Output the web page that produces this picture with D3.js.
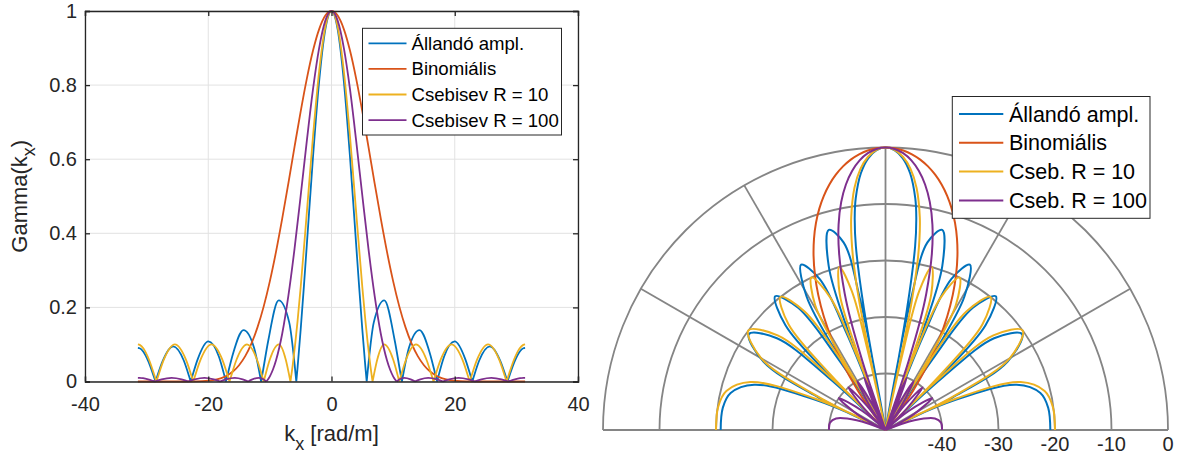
<!DOCTYPE html>
<html lang="hu">
<head>
	<meta charset="UTF-8">
	<title>Iránykarakterisztika</title>
	<style>
		*{margin:0;padding:0;}
		body{background:#fff;}
		#container{width: 1185px; height: 457px;}
		svg text{font-family: "Liberation Sans", Arial, sans-serif;}
	</style>
</head>
<body>
	<div id="container"></div>
	<script src="https://cdn.jsdelivr.net/npm/d3@7/dist/d3.min.js"></script>
	<script>
		var names = ['Állandó ampl.', 'Binomiális', 'Csebisev R = 10', 'Csebisev R = 100']
		var polarNames = ['Állandó ampl.', 'Binomiális', 'Cseb. R = 10', 'Cseb. R = 100']
		var kxTicks = [-40, -20, 0, 20, 40]
		var gammaTicks = [0, 0.2, 0.4, 0.6, 0.8, 1]
		var dbTicks = [-40, -30, -20, -10, 0]
		var spokes = [0, 30, 60, 90, 120, 150, 180]

		var kxUniform = [-31.416, -31.130, -30.559, -29.702, -28.846, -28.560, -28.274, -27.418, -25.704, -23.990, -23.134, -22.848, -22.562, -21.706, -19.992, -18.278, -17.422, -17.136, -16.850, -15.994, -14.280, -12.566, -11.710, -11.424, -11.138, -10.282, -8.568, -6.854, -5.998, -5.712, -5.5, -5, -4.5, -4, -3, -2, -1, 0, 1, 2, 3, 4, 4.5, 5, 5.5, 5.712, 5.998, 6.854, 8.568, 10.282, 11.138, 11.424, 11.710, 12.566, 14.280, 15.994, 16.850, 17.136, 17.422, 18.278, 19.992, 21.706, 22.562, 22.848, 23.134, 23.990, 25.704, 27.418, 28.274, 28.560, 28.846, 29.702, 30.559, 31.130, 31.416]
		var gUniform = [0.0909, 0.0898, 0.0811, 0.0536, 0.0143, 0, 0.0144, 0.0545, 0.0948, 0.0573, 0.0155, 0, 0.0157, 0.0604, 0.1081, 0.0675, 0.0186, 0, 0.0191, 0.0745, 0.1388, 0.0909, 0.0257, 0, 0.0269, 0.1087, 0.2189, 0.1590, 0.0481, 0, 0.0389, 0.1403, 0.2522, 0.370, 0.6065, 0.8115, 0.9507, 1, 0.9507, 0.8115, 0.6065, 0.370, 0.2522, 0.1403, 0.0389, 0, 0.0481, 0.1590, 0.2189, 0.1087, 0.0269, 0, 0.0257, 0.0909, 0.1388, 0.0745, 0.0191, 0, 0.0186, 0.0675, 0.1081, 0.0604, 0.0157, 0, 0.0155, 0.0573, 0.0948, 0.0545, 0.0144, 0, 0.0143, 0.0536, 0.0811, 0.0898, 0.0909]

		var kxBinom = [-31.416, -30, -28, -26, -24, -22, -21, -20, -19, -18, -17, -16, -15, -14, -13, -12, -11, -10, -9, -8, -7, -6, -5, -4, -3, -2, -1, 0, 1, 2, 3, 4, 5, 6, 7, 8, 9, 10, 11, 12, 13, 14, 15, 16, 17, 18, 19, 20, 21, 22, 24, 26, 28, 30, 31.416]
		var gBinom = [0, 0, 0, 0.000002, 0.00004, 0.00037, 0.00093, 0.00212, 0.00443, 0.00862, 0.0157, 0.0269, 0.0440, 0.0685, 0.1022, 0.1467, 0.2028, 0.2710, 0.3504, 0.4394, 0.5350, 0.6332, 0.7292, 0.8176, 0.8932, 0.9512, 0.9876, 1, 0.9876, 0.9512, 0.8932, 0.8176, 0.7292, 0.6332, 0.5350, 0.4394, 0.3504, 0.2710, 0.2028, 0.1467, 0.1022, 0.0685, 0.0440, 0.0269, 0.0157, 0.00862, 0.00443, 0.00212, 0.00093, 0.00037, 0.00004, 0.000002, 0, 0, 0]

		var kxCheb10 = [-31.416, -31.115, -30.514, -29.612, -28.711, -28.410, -28.110, -27.210, -25.410, -23.622, -22.728, -22.430, -22.134, -21.246, -19.470, -17.718, -16.842, -16.550, -16.266, -15.414, -13.710, -12.084, -11.271, -11.000, -10.755, -10.020, -8.550, -7.417, -6.851, -6.662, -6.3, -5.9, -5.5, -5, -4, -3, -2, -1, 0, 1, 2, 3, 4, 5, 5.5, 5.9, 6.3, 6.662, 6.851, 7.417, 8.550, 10.020, 10.755, 11.000, 11.271, 12.084, 13.710, 15.414, 16.266, 16.550, 16.842, 17.718, 19.470, 21.246, 22.134, 22.430, 22.728, 23.622, 25.410, 27.210, 28.110, 28.410, 28.711, 29.612, 30.514, 31.115, 31.416]
		var gCheb10 = [0.100, 0.0988, 0.0891, 0.0588, 0.0156, 0, 0.0156, 0.0588, 0.100, 0.0588, 0.0156, 0, 0.0156, 0.0588, 0.100, 0.0588, 0.0156, 0, 0.0156, 0.0588, 0.100, 0.0588, 0.0156, 0, 0.0156, 0.0588, 0.100, 0.0588, 0.0156, 0, 0.0434, 0.100, 0.1645, 0.255, 0.457, 0.662, 0.838, 0.9576, 1, 0.9576, 0.838, 0.662, 0.457, 0.255, 0.1645, 0.100, 0.0434, 0, 0.0156, 0.0588, 0.100, 0.0588, 0.0156, 0, 0.0156, 0.0588, 0.100, 0.0588, 0.0156, 0, 0.0156, 0.0588, 0.100, 0.0588, 0.0156, 0, 0.0156, 0.0588, 0.100, 0.0588, 0.0156, 0, 0.0156, 0.0588, 0.0891, 0.0988, 0.100]

		var kxCheb100 = [-31.416, -31.141, -30.592, -29.768, -28.945, -28.670, -28.397, -27.578, -25.940, -24.326, -23.519, -23.250, -22.987, -22.198, -20.620, -19.096, -18.334, -18.080, -17.842, -17.128, -15.700, -14.410, -13.765, -13.550, -13.373, -12.842, -11.780, -11.054, -10.691, -10.570, -10.35, -10.13, -10, -9.5, -9, -8, -7, -6, -5, -4, -3, -2, -1, 0, 1, 2, 3, 4, 5, 6, 7, 8, 9, 9.5, 10, 10.13, 10.35, 10.570, 10.691, 11.054, 11.780, 12.842, 13.373, 13.550, 13.765, 14.410, 15.700, 17.128, 17.842, 18.080, 18.334, 19.096, 20.620, 22.198, 22.987, 23.250, 23.519, 24.326, 25.940, 27.578, 28.397, 28.670, 28.945, 29.768, 30.592, 31.141, 31.416]
		var gCheb100 = [0.0100, 0.0099, 0.0089, 0.00588, 0.00156, 0, 0.00156, 0.00588, 0.0100, 0.00588, 0.00156, 0, 0.00156, 0.00588, 0.0100, 0.00588, 0.00156, 0, 0.00156, 0.00588, 0.0100, 0.00588, 0.00156, 0, 0.00156, 0.00588, 0.0100, 0.00588, 0.00156, 0, 0.0045, 0.0100, 0.0139, 0.0323, 0.0575, 0.129, 0.231, 0.358, 0.502, 0.650, 0.789, 0.9005, 0.974, 1, 0.974, 0.9005, 0.789, 0.650, 0.502, 0.358, 0.231, 0.129, 0.0575, 0.0323, 0.0139, 0.0100, 0.0045, 0, 0.00156, 0.00588, 0.0100, 0.00588, 0.00156, 0, 0.00156, 0.00588, 0.0100, 0.00588, 0.00156, 0, 0.00156, 0.00588, 0.0100, 0.00588, 0.00156, 0, 0.00156, 0.00588, 0.0100, 0.00588, 0.00156, 0, 0.00156, 0.00588, 0.0089, 0.0099, 0.0100]

		var colors = ['#0072BD', '#D95319', '#EDB120', '#7E2F8E']

		var series = [[kxUniform, gUniform], [kxBinom, gBinom], [kxCheb10, gCheb10], [kxCheb100, gCheb100]]
			.map(function(s){ return s[0].map(function(k, i){ return {kx: k, g: s[1][i]} }) })
		var kMax = d3.max(kxUniform)

		// split at the nulls so the cusps stay sharp
		function lobes(pts){
			var out = [], cur = []
			pts.forEach(function(p, i){
				cur.push(p)
				if (p.g === 0 && i > 0 && i < pts.length - 1 && pts[i - 1].g > 0 && pts[i + 1].g > 0) {
					out.push(cur)
					cur = [p]
				}
			})
			out.push(cur)
			return out
		}

		var svg = d3.select('#container').append('svg').attr('width', 1185).attr('height', 457)

		// ---- bal oldali diagram ----
		var box = {left: 85, right: 578, top: 11, bottom: 381.5}
		var scale_x = d3.scaleLinear().domain([-40, 40]).range([box.left, box.right])
		var scale_y = d3.scaleLinear().domain([0, 1]).range([box.bottom, box.top])
		var g = svg.append('g')

		g.append('g').selectAll('line').data(kxTicks).join('line')
			.attr('x1', d => scale_x(d)).attr('x2', d => scale_x(d))
			.attr('y1', box.top).attr('y2', box.bottom)
			.attr('stroke', '#e2e2e2').attr('stroke-width', 1)
		g.append('g').selectAll('line').data(gammaTicks).join('line')
			.attr('y1', d => scale_y(d)).attr('y2', d => scale_y(d))
			.attr('x1', box.left).attr('x2', box.right)
			.attr('stroke', '#e2e2e2').attr('stroke-width', 1)

		var line_g = d3.line().x(d => scale_x(d.kx)).y(d => scale_y(d.g)).curve(d3.curveMonotoneX)
		g.append('g').selectAll('path').data(series).join('path')
			.attr('d', d => lobes(d).map(line_g).join(''))
			.attr('fill', 'none')
			.attr('stroke', (d, i) => colors[i])
			.attr('stroke-width', 1.8)
			.attr('stroke-linejoin', 'round')

		var x_axis = d3.axisBottom(scale_x).tickValues(kxTicks).tickSize(-5).tickPadding(15).tickFormat(d => String(d))
		var y_axis = d3.axisLeft(scale_y).tickValues(gammaTicks).tickSize(-5).tickPadding(8).tickFormat(d => String(d))
		var top_axis = d3.axisTop(scale_x).tickValues(kxTicks).tickSize(-5).tickFormat('')
		var right_axis = d3.axisRight(scale_y).tickValues(gammaTicks).tickSize(-5).tickFormat('')

		g.append('g').attr('transform', `translate(0,${box.bottom})`).call(x_axis)
			.attr('font-size', 20).attr('color', '#262626')
		g.append('g').attr('transform', `translate(${box.left},0)`).call(y_axis)
			.attr('font-size', 20).attr('color', '#262626')
		g.append('g').attr('transform', `translate(0,${box.top})`).call(top_axis).attr('color', '#262626')
		g.append('g').attr('transform', `translate(${box.right},0)`).call(right_axis).attr('color', '#262626')
		g.selectAll('.domain, .tick line').attr('stroke-width', 1.3)
		g.selectAll('.tick text').attr('font-family', '"Liberation Sans", Arial, sans-serif')

		var xl = g.append('text')
			.attr('x', scale_x(0)).attr('y', 441)
			.attr('text-anchor', 'middle')
			.attr('font-size', 22).attr('fill', '#262626')
		xl.append('tspan').text('k')
		xl.append('tspan').attr('dy', 9).attr('font-size', 18).text('x')
		xl.append('tspan').attr('dy', -9).text(' [rad/m]')

		var yl = g.append('text')
			.attr('transform', `translate(27,${(box.top + box.bottom) / 2}) rotate(-90)`)
			.attr('text-anchor', 'middle')
			.attr('font-size', 22).attr('fill', '#262626')
		yl.append('tspan').text('Gamma(k')
		yl.append('tspan').attr('dy', 8).attr('font-size', 18).text('x')
		yl.append('tspan').attr('dy', -8).text(')')

		var leg = g.append('g').attr('transform', 'translate(362.5,28.3)')
		leg.append('rect').attr('width', 199).attr('height', 106.7)
			.attr('fill', '#fff').attr('stroke', '#262626').attr('stroke-width', 1)
		var items = leg.selectAll('g.item').data(names).join('g')
			.attr('transform', (d, i) => `translate(0,${15 + i * 25.6})`)
		items.append('line').attr('x1', 6).attr('x2', 44)
			.attr('stroke', (d, i) => colors[i]).attr('stroke-width', 1.8)
		items.append('text').attr('x', 49).attr('dy', '0.35em')
			.attr('font-size', 18.6).attr('fill', '#000').text(d => d)

		// ---- jobb oldali polár diagram ----
		var cx = 885.5, cy = 430, R = 282.5
		var scale_r = d3.scaleLog().domain([Math.pow(10, -50 / 20), 1]).range([0, R]).clamp(true)
		var p = svg.append('g').attr('transform', `translate(${cx},${cy})`)

		p.append('g').selectAll('path').data(dbTicks).join('path')
			.attr('d', function(db){
				var path = d3.path()
				path.arc(0, 0, scale_r(Math.pow(10, db / 20)), Math.PI, 2 * Math.PI)
				return path.toString()
			})
			.attr('fill', 'none').attr('stroke', '#858585').attr('stroke-width', 1.8)
		p.append('g').selectAll('line').data(spokes).join('line')
			.attr('x1', 0).attr('y1', 0)
			.attr('x2', d => R * Math.cos(d * Math.PI / 180))
			.attr('y2', d => -R * Math.sin(d * Math.PI / 180))
			.attr('stroke', '#858585').attr('stroke-width', 1.8)

		p.append('g').selectAll('text').data(dbTicks).join('text')
			.attr('x', d => scale_r(Math.pow(10, d / 20)))
			.attr('y', 21)
			.attr('text-anchor', 'middle')
			.attr('font-size', 20).attr('fill', '#262626')
			.text(d => String(d))

		var radial = d3.lineRadial()
			.angle(d => Math.asin(Math.max(-1, Math.min(1, d.kx / kMax))))
			.radius(d => scale_r(d.g))
			.curve(d3.curveCatmullRom.alpha(0.5))
		p.append('g').selectAll('path').data(series).join('path')
			.attr('d', d => lobes(d).map(radial).join(''))
			.attr('fill', 'none')
			.attr('stroke', (d, i) => colors[i])
			.attr('stroke-width', 2)
			.attr('stroke-linejoin', 'round')

		var leg2 = svg.append('g').attr('transform', 'translate(952.3,96.5)')
		leg2.append('rect').attr('width', 197.7).attr('height', 121.8)
			.attr('fill', '#fff').attr('stroke', '#262626').attr('stroke-width', 1)
		var items2 = leg2.selectAll('g.item').data(polarNames).join('g')
			.attr('transform', (d, i) => `translate(0,${17.5 + i * 28.8})`)
		items2.append('line').attr('x1', 6.7).attr('x2', 51)
			.attr('stroke', (d, i) => colors[i]).attr('stroke-width', 2)
		items2.append('text').attr('x', 56.7).attr('dy', '0.35em')
			.attr('font-size', 21.5).attr('fill', '#000').text(d => d)
	</script>
</body>
</html>
